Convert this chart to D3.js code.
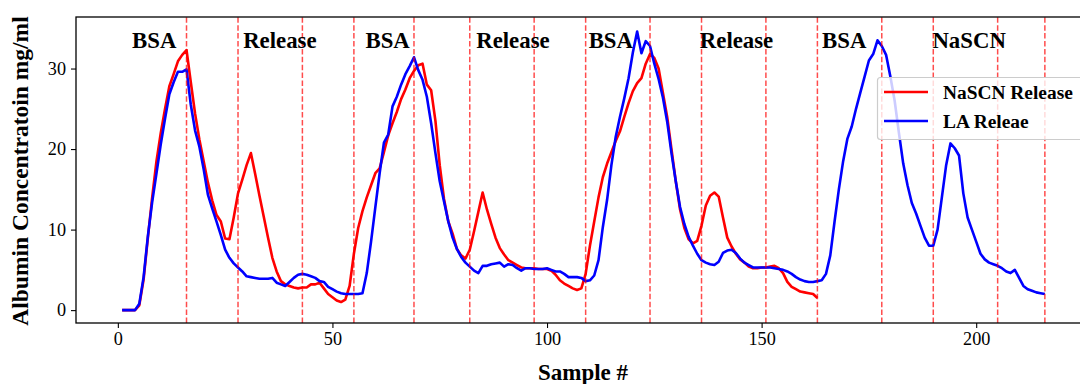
<!DOCTYPE html>
<html>
<head>
<meta charset="utf-8">
<script src="https://cdn.jsdelivr.net/npm/d3@7"></script>
<style>
  html, body { margin: 0; padding: 0; background: #fff; }
  svg { display: block; }
</style>
</head>
<body>
<svg id="chart" width="1080" height="384"></svg>
<script>
// ---------------- data ----------------
const seriesNames = ["NaSCN Release", "LA Releae"];
const seriesColors = ["#ff0000", "#0000ff"];

// NaSCN Release: samples 1..163
const nascnRelease = [
  0, 0, 0, 0, 0.6, 3.8, 9.0, 14.0, 18.5, 22.0,
  25.0, 27.8, 29.3, 30.9, 31.7, 32.3, 28.3, 24.4, 21.2, 18.5,
  15.8, 13.6, 11.8, 11.0, 8.9, 8.8, 11.5, 14.5, 16.2, 18.0,
  19.5, 16.9, 14.2, 11.6, 9.0, 6.5, 4.8, 3.6, 3.2, 3.0,
  2.8, 2.7, 2.8, 2.8, 3.2, 3.2, 3.4, 2.7, 2.0, 1.6,
  1.2, 1.0, 1.3, 3.0, 7.0, 10.2, 12.3, 14.0, 15.5, 17.0,
  17.6, 19.6, 21.7, 23.2, 24.6, 26.2, 27.4, 28.8, 29.7, 30.4,
  30.6, 28.0, 27.3, 23.5, 18.0, 13.8, 11.0, 9.5, 7.6, 6.8,
  6.4, 7.5, 9.8, 12.2, 14.6, 12.5, 10.7, 9.0, 7.7, 6.9,
  6.2, 5.9, 5.6, 5.3, 5.2, 5.2, 5.2, 5.1, 5.1, 5.1,
  4.9, 4.4, 3.7, 3.3, 3.0, 2.7, 2.5, 2.7, 4.5, 8.0,
  11.0, 14.0, 16.5, 18.2, 19.6, 21.0, 22.2, 24.0, 25.7, 27.2,
  28.2, 28.8, 30.6, 31.8, 31.3, 30.0, 27.0, 24.0, 20.0, 16.0,
  12.5, 10.2, 8.8, 8.3, 8.6, 10.5, 13.0, 14.2, 14.6, 14.1,
  11.5, 9.0, 7.9, 7.0, 6.3, 5.9, 5.4, 5.2, 5.2, 5.3,
  5.3, 5.4, 5.5, 5.2, 4.6, 3.5, 2.9, 2.6, 2.3, 2.2,
  2.1, 2.0, 1.5
];

// LA Releae: samples 1..216
const laRelease = [
  0, 0, 0, 0, 0.8, 4.1, 9.2, 13.4, 17.0, 20.6,
  23.8, 26.8, 28.3, 29.6, 29.6, 29.9, 25.5, 22.3, 20.3, 17.5,
  14.3, 12.6, 11.0, 9.3, 7.5, 6.5, 5.8, 5.3, 4.8, 4.2,
  4.1, 4.0, 3.9, 3.9, 3.9, 4.0, 3.4, 3.2, 3.0, 3.5,
  4.0, 4.4, 4.5, 4.4, 4.2, 4.0, 3.6, 3.5, 2.9, 2.6,
  2.3, 2.1, 2.0, 2.0, 2.0, 2.0, 2.1, 4.6, 8.5, 12.8,
  17.0, 20.8, 21.8, 25.3, 26.5, 28.0, 29.3, 30.3, 31.4, 29.8,
  28.6, 26.5, 23.2, 19.5, 16.0, 13.5, 11.0, 9.0, 7.6, 6.6,
  5.9, 5.4, 4.9, 4.6, 5.5, 5.5, 5.7, 5.8, 5.9, 5.4,
  5.7, 5.6, 5.2, 4.9, 5.2, 5.2, 5.1, 5.1, 5.1, 5.2,
  5.0, 4.8, 4.8, 4.5, 4.1, 4.1, 4.1, 4.0, 3.6, 3.7,
  4.3, 6.2, 10.3, 13.7, 18.0, 21.5, 24.0, 26.3, 28.8, 32.0,
  34.6, 31.9, 33.4, 32.8, 30.6, 28.7, 26.4, 23.4, 19.5, 16.0,
  12.8, 10.7, 9.1, 8.0, 7.0, 6.2, 5.9, 5.7, 5.6, 6.0,
  7.1, 7.4, 7.5, 7.1, 6.4, 5.9, 5.6, 5.3, 5.3, 5.3,
  5.3, 5.3, 5.2, 5.1, 5.0, 4.8, 4.5, 4.1, 3.8, 3.6,
  3.5, 3.5, 3.6, 3.7, 4.5, 6.8, 11.0, 15.0, 18.5, 21.3,
  22.8, 25.0, 27.0, 29.0, 31.0, 31.8, 33.5, 32.8, 31.7, 29.0,
  26.0, 22.0, 18.2, 15.5, 13.3, 12.0, 10.5, 9.0, 8.0, 8.0,
  10.0, 14.0, 18.0, 20.7, 20.1, 19.2, 14.5, 11.5, 10.0, 8.5,
  7.0, 6.3, 5.9, 5.7, 5.5, 5.2, 4.8, 4.6, 5.0, 4.0,
  3.0, 2.6, 2.4, 2.2, 2.1, 2.0
];

// phase boundaries (sample #) drawn as dashed vertical lines
const phaseBoundaries = [16, 28, 43, 55, 69, 82, 97, 109, 124, 136, 151, 163, 178, 190, 205, 216];
// phase labels and the sample # where each label starts
const phaseLabels = ["BSA", "Release", "BSA", "Release", "BSA", "Release", "BSA", "NaSCN"];
const phaseLabelX = [3.3, 29.2, 57.7, 83.5, 109.7, 135.6, 164.1, 189.8];
const phaseLabelY = 32.6;

const xTicks = [0, 50, 100, 150, 200];
const yTicks = [0, 10, 20, 30];
const xLabel = "Sample #";
const yLabel = "Albumin Concentratoin mg/ml";

// ---------------- drawing ----------------
const W = 1080, H = 384;
const plot = { left: 76, right: 1091, top: 17, bottom: 323 };
const serif = "'Liberation Serif', 'Times New Roman', serif";

const svg = d3.select("#chart");

const x = d3.scaleLinear().domain([-9.75, 226.75]).range([plot.left, plot.right]);
const y = d3.scaleLinear().domain([-1.6, 36.4]).range([plot.bottom, plot.top]);

const clip = svg.append("defs").append("clipPath").attr("id", "plotclip")
  .append("rect")
  .attr("x", plot.left).attr("y", plot.top)
  .attr("width", plot.right - plot.left).attr("height", plot.bottom - plot.top);

const g = svg.append("g").attr("clip-path", "url(#plotclip)");

const toPts = arr => arr.map((v, i) => [i + 1, v]);
const line = d3.line().x(d => x(d[0])).y(d => y(d[1]));

const allSeries = [nascnRelease, laRelease];
allSeries.forEach((s, i) => {
  g.append("path")
    .datum(toPts(s))
    .attr("d", line)
    .attr("fill", "none")
    .attr("stroke", seriesColors[i])
    .attr("stroke-width", 2.6)
    .attr("stroke-linejoin", "round")
    .attr("stroke-linecap", "butt");
});

// dashed phase lines
g.selectAll("line.phase")
  .data(phaseBoundaries)
  .join("line")
  .attr("class", "phase")
  .attr("x1", d => x(d)).attr("x2", d => x(d))
  .attr("y1", plot.bottom).attr("y2", plot.top)
  .attr("stroke", "#ff0000")
  .attr("stroke-opacity", 0.7)
  .attr("stroke-width", 1.5)
  .attr("stroke-dasharray", "5.5,2.4");

// phase labels
g.selectAll("text.phase")
  .data(phaseLabels)
  .join("text")
  .attr("class", "phase")
  .attr("x", (d, i) => x(phaseLabelX[i]))
  .attr("y", y(phaseLabelY))
  .attr("font-family", serif)
  .attr("font-weight", "bold")
  .attr("font-size", 22.8)
  .attr("fill", "#000")
  .text(d => d);

// frame
svg.append("rect")
  .attr("x", plot.left).attr("y", plot.top)
  .attr("width", plot.right - plot.left).attr("height", plot.bottom - plot.top)
  .attr("fill", "none").attr("stroke", "#000").attr("stroke-width", 1.3);

// axes
const xAxis = d3.axisBottom(x).tickValues(xTicks).tickSize(5).tickPadding(4).tickFormat(d3.format("d"));
const yAxis = d3.axisLeft(y).tickValues(yTicks).tickSize(5).tickPadding(5).tickFormat(d3.format("d"));

const gx = svg.append("g").attr("transform", `translate(0,${plot.bottom})`).call(xAxis);
const gy = svg.append("g").attr("transform", `translate(${plot.left},0)`).call(yAxis);
[gx, gy].forEach(a => {
  a.select(".domain").remove();
  a.selectAll(".tick line").attr("stroke", "#000").attr("stroke-width", 1.1);
  a.selectAll(".tick text")
    .attr("font-family", serif)
    .attr("font-size", 18.2)
    .attr("fill", "#000");
});

// axis labels
svg.append("text")
  .attr("x", x(100) + 36).attr("y", 380)
  .attr("text-anchor", "middle")
  .attr("font-family", serif).attr("font-weight", "bold").attr("font-size", 23)
  .text(xLabel);

svg.append("text")
  .attr("transform", `translate(28,${171}) rotate(-90)`)
  .attr("text-anchor", "middle")
  .attr("font-family", serif).attr("font-weight", "bold").attr("font-size", 23.5)
  .text(yLabel);

// legend
const leg = svg.append("g");
leg.append("rect")
  .attr("x", 877.5).attr("y", 77.5)
  .attr("width", 210).attr("height", 62)
  .attr("rx", 3)
  .attr("fill", "#fff").attr("fill-opacity", 0.8)
  .attr("stroke", "#cccccc").attr("stroke-width", 1.2);
const legRows = [92, 121];
seriesNames.forEach((name, i) => {
  leg.append("line")
    .attr("x1", 884).attr("x2", 928)
    .attr("y1", legRows[i]).attr("y2", legRows[i])
    .attr("stroke", seriesColors[i]).attr("stroke-width", 2.6);
  leg.append("text")
    .attr("x", 943).attr("y", legRows[i] + 6.5)
    .attr("font-family", serif).attr("font-weight", "bold").attr("font-size", 19.4)
    .attr("fill", "#000")
    .text(name);
});
</script>
</body>
</html>
